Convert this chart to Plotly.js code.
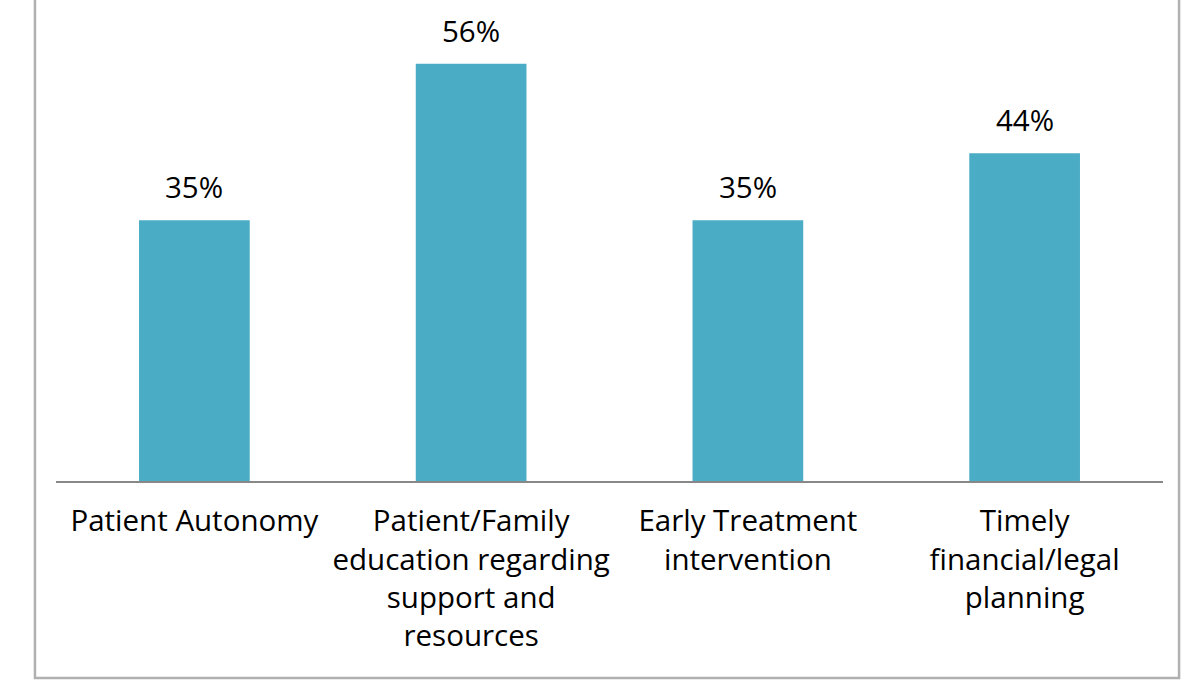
<!DOCTYPE html>
<html>
<head>
<meta charset="utf-8">
<script src="https://cdn.plot.ly/plotly-3.0.1.min.js"></script>
<style>html,body{margin:0;padding:0;background:#fff;}#chart{width:1182px;height:692px;}</style>
</head>
<body>
<div id="chart"></div>
<script>
const categories = ["Patient Autonomy", "Patient/Family<br>education regarding<br>support and<br>resources", "Early Treatment<br>intervention", "Timely<br>financial/legal<br>planning"];
const values = [35, 56, 35, 44];
const valueLabels = values.map(v => v + "%");

const FONT = "Open Sans, Noto Sans, sans-serif";

const trace = {
  type: "bar",
  x: categories,
  y: values,
  marker: {color: "#4bacc6"},
  hoverinfo: "none"
};

const annotations = categories.map((c, i) => ({
  x: c, y: values[i], xref: "x", yref: "y",
  text: valueLabels[i], showarrow: false,
  yanchor: "bottom", yshift: 11,
  font: {family: FONT, size: 29.5, color: "#000"}
}));

const layout = {
  width: 1182, height: 692,
  margin: {l: 56, r: 19, t: 34, b: 211},
  paper_bgcolor: "#fff", plot_bgcolor: "#fff",
  showlegend: false,
  bargap: 0.6,
  xaxis: {
    showline: true, linecolor: "#888888", linewidth: 2,
    ticks: "", showgrid: false, zeroline: false,
    tickfont: {family: FONT, size: 29.5, color: "#000"},
    ticklabelstandoff: 13,
    fixedrange: true
  },
  yaxis: {
    range: [0, 60], visible: false, showgrid: false, zeroline: false, fixedrange: true
  },
  annotations: annotations,
  shapes: [{
    type: "rect", xref: "paper", yref: "paper",
    x0: -0.019, x1: 1.0145, y0: -0.4407, y1: 1.3,
    line: {color: "#b0b0b0", width: 2.5}, fillcolor: "rgba(0,0,0,0)", layer: "below"
  }]
};

Plotly.newPlot("chart", [trace], layout, {displayModeBar: false, staticPlot: true});
</script>
</body>
</html>
